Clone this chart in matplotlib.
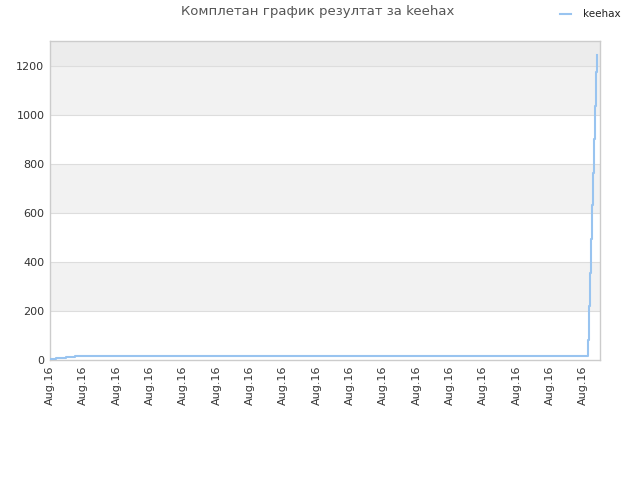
import matplotlib
matplotlib.use("Agg")
import matplotlib.pyplot as plt

# time in minutes from start (all on Aug.16)
times = [0, 9, 23.5, 37.5, 47.5, 807, 808, 809.5, 811, 812.5, 814, 815.5, 817, 818.5, 820.5]
scores = [3, 7, 12, 17, 18, 82, 220, 355, 494, 632, 762, 902, 1036, 1175, 1245]
tick_positions = list(range(0, 801, 50))
tick_labels = ["Aug.16"] * len(tick_positions)
y_ticks = [0, 200, 400, 600, 800, 1000, 1200]
title = "Комплетан график резултат за keehax"
series_name = "keehax"

fig = plt.figure(figsize=(6.4, 4.8), dpi=100)
ax = fig.add_axes([50/640, 1-360/480, 550/640, (360-40.7)/480])

ymax = 1303
# alternating bands
band_colors = ["#ffffff", "#f2f2f2"]
for i, y0 in enumerate(y_ticks):
    y1 = y_ticks[i+1] if i + 1 < len(y_ticks) else ymax
    c = band_colors[i % 2] if i + 1 < len(y_ticks) else "#ececec"
    ax.axhspan(y0, y1, color=c, zorder=0, lw=0)
for y in y_ticks[1:]:
    ax.axhline(y, color="#dddddd", lw=0.8, zorder=1)

ax.step(times, scores, where="post", color="#99c4f0", lw=1.5, zorder=3, label=series_name)

ax.set_xlim(0, 825)
ax.set_ylim(0, ymax)
ax.set_xticks(tick_positions)
ax.set_xticklabels(tick_labels, rotation=90, fontsize=8, color="#333333")
ax.set_yticks(y_ticks)
ax.set_yticklabels([str(v) for v in y_ticks], fontsize=8, color="#333333")
ax.tick_params(length=0, pad=4)
for s in ax.spines.values():
    s.set_color("#cccccc")
    s.set_linewidth(1)

fig.text(318/640, 1-12/480, title, ha="center", va="center", fontsize=9.5, color="#555555")
leg = fig.legend(loc="upper right", bbox_to_anchor=(0.985, 1.0), frameon=False, fontsize=7.5,
                 handlelength=1.0, handletextpad=1.2)
for t in leg.get_texts():
    t.set_color("#222222")
fig.savefig("out.png", dpi=100)
